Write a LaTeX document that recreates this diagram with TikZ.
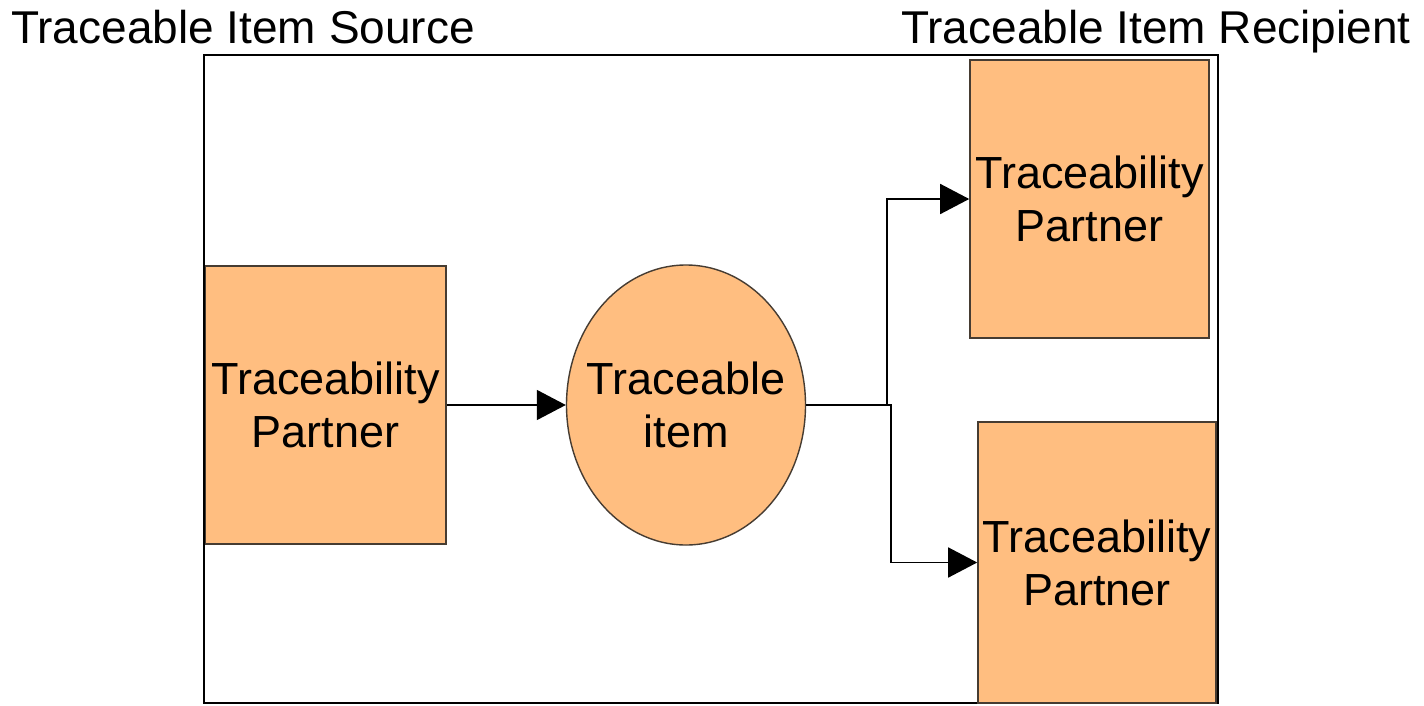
\documentclass[tikz,border=0pt]{standalone}
\usepackage{fontspec}
\setmainfont{Liberation Sans}
\usetikzlibrary{shapes.geometric,arrows.meta}
\definecolor{partnerfill}{RGB}{255,190,128}
\definecolor{edgegray}{RGB}{70,60,50}
\begin{document}
\begin{tikzpicture}[x=1pt,y=-1pt,
  lbl/.style={font=\fontsize{46}{54}\selectfont, text=black, inner sep=0pt},
  partner/.style={rectangle, draw=edgegray, line width=1.6pt, fill=partnerfill, inner sep=0pt,
     align=center, font=\fontsize{45}{53}\selectfont},
  itemnode/.style={ellipse, draw=edgegray, line width=1.4pt, fill=partnerfill, inner sep=0pt},
  itemtext/.style={align=center, inner sep=0pt, font=\fontsize{45}{53}\selectfont},
  arr/.style={draw=black, line width=1.6pt, -{Triangle[length=29pt,width=30pt]}},
  frame/.style={draw=black, line width=2pt}
]
\useasboundingbox (0,0) rectangle (1424,705);
\fill[white] (0,0) rectangle (1424,705);
% outer frame
\draw[frame] (204,55) rectangle (1218,703);
% titles
\node[lbl, anchor=base west] (src) at (11,43) {Traceable Item Source};
\node[lbl, anchor=base east] (rcp) at (1411,43) {Traceable Item Recipient};
% nodes
\node[partner, minimum width=241pt, minimum height=278pt] (lp) at (325.5,405) {Traceability\\Partner};
\node[itemnode, minimum width=239pt, minimum height=280pt] (it) at (686,405) {};
\node[itemtext] (itl) at (it.center) {Traceable\\item};
\node[partner, minimum width=239pt, minimum height=278pt] (tp) at (1089.5,199) {Traceability\\Partner};
\node[partner, minimum width=238pt, minimum height=281pt] (bp) at (1097,562.5) {Traceability\\Partner};
\draw[line width=2.5pt] (lp.north west) -- (lp.south west);
% connectors
\coordinate (j1) at (887,405);
\coordinate (j2) at (891,405);
\draw[arr] (lp.east) -- (it.west);
\draw[arr] (it.east) -- (j1) |- (tp.west);
\draw[arr] (j1) -- (j2) |- (bp.west);
\end{tikzpicture}
\end{document}
